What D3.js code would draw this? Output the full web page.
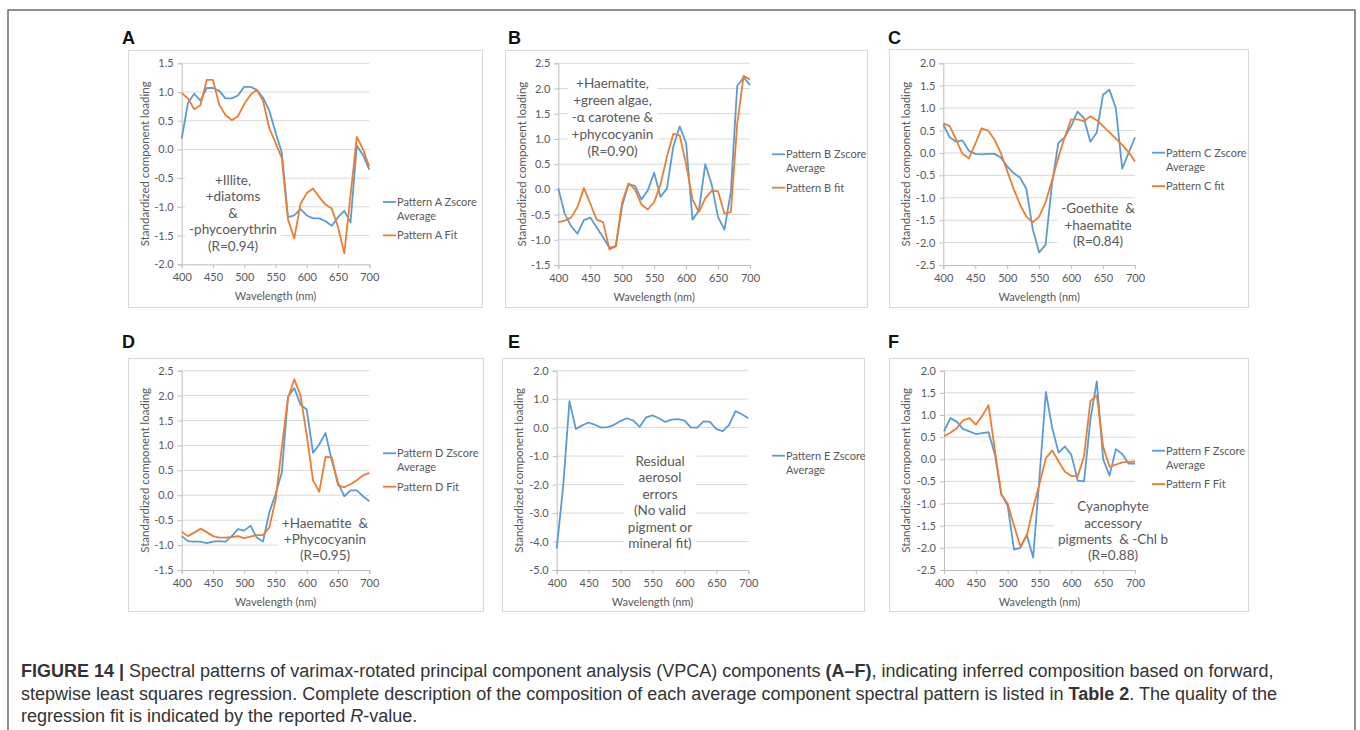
<!DOCTYPE html>
<html>
<head>
<meta charset="utf-8">
<script src="https://cdn.jsdelivr.net/npm/d3@7"></script>
<style>
  body { margin: 0; background: #fff; }
  text { font-family: Lato, "Open Sans", sans-serif; fill: #595959; }
  .caption text, text.caption { font-family: "Liberation Sans", Arial, sans-serif; fill: #333; }
</style>
</head>
<body>
<svg width="1360" height="730"></svg>
<script>
const wavelengths = [400, 410, 420, 430, 440, 450, 460, 470, 480, 490, 500, 510, 520, 530, 540, 550,
  560, 570, 580, 590, 600, 610, 620, 630, 640, 650, 660, 670, 680, 690, 700];
const xTicks = [400, 450, 500, 550, 600, 650, 700];

const zscoreA = [0.19, 0.81, 0.97, 0.85, 1.07, 1.07, 1.02, 0.89, 0.89, 0.94, 1.09, 1.09, 1.04, 0.9, 0.68, 0.3,
  -0.05, -1.18, -1.15, -1.04, -1.15, -1.2, -1.2, -1.25, -1.33, -1.18, -1.07, -1.27, 0.07, -0.1, -0.35];
const fitA = [0.98, 0.89, 0.7, 0.77, 1.21, 1.21, 0.78, 0.6, 0.51, 0.58, 0.79, 0.95, 1.04, 0.85, 0.37, 0.12,
  -0.15, -1.22, -1.55, -0.95, -0.76, -0.68, -0.83, -0.96, -1.03, -1.35, -1.81, -0.8, 0.22, 0.0, -0.3];

const zscoreB = [0.02, -0.48, -0.73, -0.88, -0.61, -0.56, -0.75, -0.95, -1.16, -1.12, -0.32, 0.1, 0.07, -0.2, -0.02, 0.33,
  -0.15, 0.02, 0.85, 1.25, 0.92, -0.6, -0.42, 0.5, 0.1, -0.55, -0.8, -0.05, 2.05, 2.22, 2.07];
const fitB = [-0.65, -0.62, -0.56, -0.35, 0.03, -0.28, -0.6, -0.65, -1.19, -1.13, -0.25, 0.12, 0.0, -0.3, -0.4, -0.25,
  0.1, 0.65, 1.1, 1.07, 0.5, -0.2, -0.45, -0.18, -0.03, -0.04, -0.48, -0.45, 1.3, 2.25, 2.18];

const zscoreC = [0.63, 0.35, 0.25, 0.28, 0.05, -0.02, -0.03, -0.02, -0.02, -0.1, -0.3, -0.45, -0.55, -0.8, -1.7, -2.22,
  -2.05, -0.7, 0.22, 0.35, 0.6, 0.92, 0.78, 0.25, 0.45, 1.3, 1.41, 1.0, -0.35, 0.0, 0.35];
const fitC = [0.66, 0.6, 0.3, -0.02, -0.12, 0.2, 0.55, 0.5, 0.3, 0.0, -0.4, -0.8, -1.15, -1.42, -1.55, -1.42,
  -1.1, -0.62, -0.1, 0.35, 0.75, 0.75, 0.71, 0.82, 0.73, 0.6, 0.46, 0.32, 0.18, 0.02, -0.19];

const zscoreD = [-0.82, -0.92, -0.93, -0.93, -0.96, -0.93, -0.92, -0.93, -0.82, -0.68, -0.71, -0.61, -0.85, -0.93, -0.35, 0.02,
  0.45, 1.98, 2.15, 1.82, 1.72, 0.85, 1.02, 1.25, 0.7, 0.25, -0.02, 0.1, 0.1, -0.02, -0.12];
const fitD = [-0.73, -0.82, -0.75, -0.67, -0.74, -0.82, -0.85, -0.85, -0.84, -0.82, -0.86, -0.83, -0.8, -0.8, -0.65, -0.1,
  0.95, 1.95, 2.33, 2.0, 1.2, 0.3, 0.07, 0.77, 0.76, 0.2, 0.16, 0.22, 0.3, 0.4, 0.45];

const zscoreE = [-4.25, -2.1, 0.93, -0.05, 0.08, 0.18, 0.1, 0.0, 0.02, 0.1, 0.23, 0.33, 0.25, 0.03, 0.36, 0.43,
  0.33, 0.2, 0.28, 0.3, 0.25, 0.01, 0.0, 0.22, 0.2, -0.05, -0.12, 0.1, 0.58, 0.47, 0.33];

const zscoreF = [0.63, 0.93, 0.85, 0.68, 0.63, 0.57, 0.59, 0.61, 0.1, -0.78, -1.05, -2.04, -2.0, -1.7, -2.22, -0.4,
  1.52, 0.7, 0.15, 0.29, 0.1, -0.48, -0.5, 0.9, 1.76, 0.0, -0.37, 0.23, 0.12, -0.1, -0.1];
const fitF = [0.52, 0.6, 0.7, 0.88, 0.93, 0.78, 0.98, 1.22, 0.2, -0.8, -1.0, -1.5, -1.97, -1.72, -1.1, -0.55,
  0.02, 0.2, -0.05, -0.28, -0.38, -0.38, 0.07, 1.32, 1.44, 0.28, -0.17, -0.12, -0.07, -0.06, -0.05];

const ticksA = [-2.0, -1.5, -1.0, -0.5, 0.0, 0.5, 1.0, 1.5];
const ticksB = [-1.5, -1.0, -0.5, 0.0, 0.5, 1.0, 1.5, 2.0, 2.5];
const ticksC = [-2.5, -2.0, -1.5, -1.0, -0.5, 0.0, 0.5, 1.0, 1.5, 2.0];
const ticksD = [-1.5, -1.0, -0.5, 0.0, 0.5, 1.0, 1.5, 2.0, 2.5];
const ticksE = [-5.0, -4.0, -3.0, -2.0, -1.0, 0.0, 1.0, 2.0];
const ticksF = [-2.5, -2.0, -1.5, -1.0, -0.5, 0.0, 0.5, 1.0, 1.5, 2.0];

const notesA = ["+Illite,", "+diatoms", "&", "-phycoerythrin", "(R=0.94)"];
const notesB = ["+Haematite,", "+green algae,", "-\u03b1 carotene &", "+phycocyanin", "(R=0.90)"];
const notesC = ["-Goethite  &", "+haematite", "(R=0.84)"];
const notesD = ["+Haematite  &", "+Phycocyanin", "(R=0.95)"];
const notesE = ["Residual", "aerosol", "errors", "(No valid", "pigment or", "mineral fit)"];
const notesF = ["Cyanophyte", "accessory", "pigments  & -Chl b", "(R=0.88)"];

const blue = "#5b9bd5", orange = "#ed7d31";

const panels = [
  { letter: "A", lx: 122, ly: 44, box: [128, 50, 482, 307], plot: [181.7, 63.3, 369.3, 264.3], ticks: ticksA,
    series: [{ name: ["Pattern A Zscore", "Average"], values: zscoreA, color: blue }, { name: ["Pattern A Fit"], values: fitA, color: orange }],
    legend: [383, 202], notes: notesA, note: [233, 180, 16.5] },
  { letter: "B", lx: 508, ly: 44, box: [505, 50, 867, 307], plot: [558.3, 63.3, 750, 265], ticks: ticksB,
    series: [{ name: ["Pattern B Zscore", "Average"], values: zscoreB, color: blue }, { name: ["Pattern B fit"], values: fitB, color: orange }],
    legend: [772, 154.3], notes: notesB, note: [612.5, 83.5, 17] },
  { letter: "C", lx: 888, ly: 44, box: [889, 49, 1248, 307], plot: [943.3, 63.3, 1135, 265], ticks: ticksC,
    series: [{ name: ["Pattern C Zscore", "Average"], values: zscoreC, color: blue }, { name: ["Pattern C fit"], values: fitC, color: orange }],
    legend: [1152, 152.7], notes: notesC, note: [1098, 208.3, 16.7] },
  { letter: "D", lx: 122, ly: 348, box: [128, 358, 483, 611], plot: [181.7, 370.7, 369.3, 570], ticks: ticksD,
    series: [{ name: ["Pattern D Zscore", "Average"], values: zscoreD, color: blue }, { name: ["Pattern D Fit"], values: fitD, color: orange }],
    legend: [383, 453.3], notes: notesD, note: [325, 523.3, 15.8] },
  { letter: "E", lx: 508, ly: 348, box: [502, 358, 864, 611], plot: [556.7, 370.7, 748.3, 570], ticks: ticksE,
    series: [{ name: ["Pattern E Zscore", "Average"], values: zscoreE, color: blue }],
    legend: [772, 455.7], notes: notesE, note: [660, 461, 16.5] },
  { letter: "F", lx: 888, ly: 348, box: [889, 358, 1248, 611], plot: [944, 370.7, 1135, 570], ticks: ticksF,
    series: [{ name: ["Pattern F Zscore", "Average"], values: zscoreF, color: blue }, { name: ["Pattern F Fit"], values: fitF, color: orange }],
    legend: [1152, 450.7], notes: notesF, note: [1113, 506.7, 16.3] }
];

const svg = d3.select("svg");

// outer frame of the figure
svg.append("rect")
  .attr("x", 8).attr("y", 10).attr("width", 1347).attr("height", 740)
  .attr("fill", "none").attr("stroke", "#555").attr("stroke-width", 1.3);

const fmt = d3.format(".1f");

panels.forEach(p => {
  const [bx0, by0, bx1, by1] = p.box;
  const [px0, py0, px1, py1] = p.plot;

  svg.append("text")
    .attr("x", p.lx).attr("y", p.ly)
    .style("font-family", "'Liberation Sans', Arial, sans-serif")
    .style("font-weight", 700).style("font-size", "18px").style("fill", "#111")
    .text(p.letter);

  svg.append("rect")
    .attr("x", bx0 + 0.5).attr("y", by0 + 0.5)
    .attr("width", bx1 - bx0).attr("height", by1 - by0)
    .attr("fill", "#fff").attr("stroke", "#d9d9d9");

  const x = d3.scaleLinear().domain([400, 700]).range([px0, px1]);
  const y = d3.scaleLinear().domain(d3.extent(p.ticks)).range([py1, py0]);

  const g = svg.append("g");

  // gridlines
  g.selectAll(".grid")
    .data(p.ticks.slice(1))
    .enter().append("line")
    .attr("x1", px0).attr("x2", px1)
    .attr("y1", d => y(d)).attr("y2", d => y(d))
    .attr("stroke", "#d9d9d9").attr("stroke-width", 1);

  // y axis
  const yAxis = d3.axisLeft(y).tickValues(p.ticks).tickSize(4).tickPadding(4)
    .tickFormat(d => fmt(d).replace("\u2212", "-"));
  const ya = g.append("g").attr("transform", `translate(${px0},0)`).call(yAxis);
  ya.select(".domain").attr("stroke", "#bfbfbf");
  ya.selectAll(".tick line").attr("stroke", "#bfbfbf");
  ya.selectAll(".tick text").style("font-size", "11px").style("fill", "#595959")
    .style("font-family", "Lato, sans-serif");

  // x axis
  const xAxis = d3.axisBottom(x).tickValues(xTicks).tickSize(4).tickPadding(5);
  const xa = g.append("g").attr("transform", `translate(0,${py1})`).call(xAxis);
  xa.select(".domain").attr("stroke", "#bfbfbf");
  xa.selectAll(".tick line").attr("stroke", "#bfbfbf");
  xa.selectAll(".tick text").style("font-size", "11px").style("fill", "#595959")
    .style("font-family", "Lato, sans-serif");

  // axis titles
  g.append("text")
    .attr("x", (px0 + px1) / 2).attr("y", py1 + 36)
    .attr("text-anchor", "middle").style("font-size", "11px")
    .text("Wavelength (nm)");
  g.append("text")
    .attr("transform", `translate(${bx0 + 21},${(py0 + py1) / 2}) rotate(-90)`)
    .attr("text-anchor", "middle").style("font-size", "11.5px")
    .text("Standardized component  loading");

  // series
  const line = d3.line()
    .x((d, i) => x(wavelengths[i]))
    .y(d => y(d));
  p.series.forEach(s => {
    g.append("path")
      .datum(s.values)
      .attr("d", line)
      .attr("fill", "none")
      .attr("stroke", s.color)
      .attr("stroke-width", 1.8)
      .attr("stroke-linejoin", "round");
  });

  // legend
  const [lgx, lgy] = p.legend;
  const rowY = [0, 33.4];
  p.series.forEach((s, i) => {
    const yy = lgy + rowY[i];
    g.append("line")
      .attr("x1", lgx).attr("x2", lgx + 13)
      .attr("y1", yy).attr("y2", yy)
      .attr("stroke", s.color).attr("stroke-width", 1.8);
    s.name.forEach((t, j) => {
      g.append("text")
        .attr("x", lgx + 14).attr("y", yy + j * 14.3)
        .attr("dy", "0.35em").style("font-size", "11px")
        .text(t);
    });
  });

  // annotation text box
  const [nx, ny, nstep] = p.note;
  const ng = g.append("g");
  const bg = ng.append("rect").attr("fill", "#fff");
  ng.selectAll("text")
    .data(p.notes)
    .enter().append("text")
    .attr("x", nx).attr("y", (d, i) => ny + i * nstep)
    .attr("dy", "0.35em")
    .attr("text-anchor", "middle")
    .style("font-size", "13.5px")
    .style("white-space", "pre")
    .text(d => d);
  const bb = ng.node().getBBox();
  bg.attr("x", bb.x - 4).attr("y", bb.y - 1)
    .attr("width", bb.width + 8).attr("height", bb.height + 2);
});

// caption
const caption = svg.append("g").attr("class", "caption");
const capLines = [
  [["FIGURE 14 |", 700], [" Spectral patterns of varimax-rotated principal component analysis (VPCA) components ", 400], ["(A\u2013F)", 700], [", indicating inferred composition based on forward,", 400]],
  [["stepwise least squares regression. Complete description of the composition of each average component spectral pattern is listed in ", 400], ["Table 2", 700], [". The quality of the", 400]],
  [["regression fit is indicated by the reported ", 400], ["R", 400, "italic"], ["-value.", 400]]
];
capLines.forEach((parts, i) => {
  const t = caption.append("text")
    .attr("x", 21).attr("y", 677 + i * 22.5)
    .style("font-size", "18px")
    .style("white-space", "pre");
  parts.forEach(pt => {
    t.append("tspan")
      .style("font-weight", pt[1])
      .style("font-style", pt[2] || "normal")
      .text(pt[0]);
  });
});
</script>
</body>
</html>
